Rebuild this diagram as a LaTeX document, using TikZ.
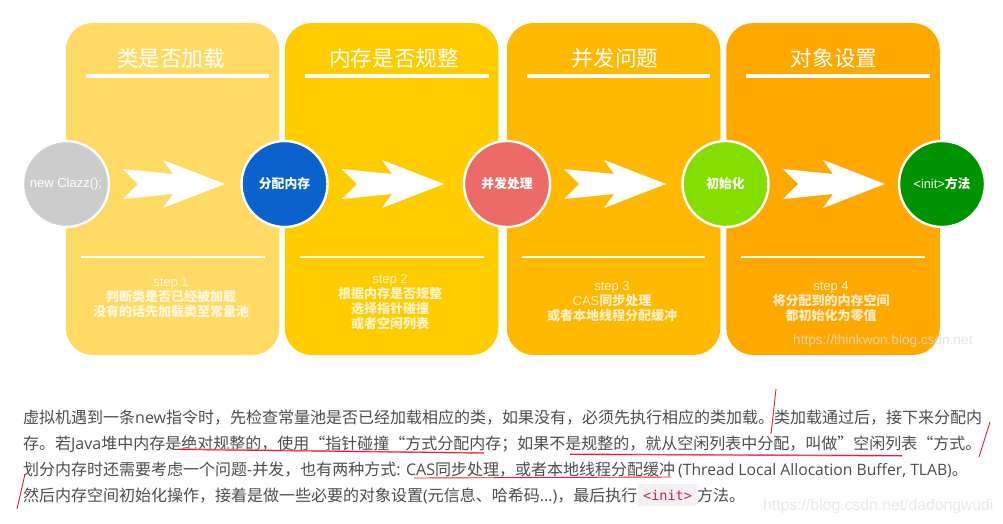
\documentclass[tikz,border=0pt]{standalone}
\usepackage{fontspec}
\setmainfont{Noto Sans CJK SC}
\newfontfamily\lat{Open Sans}
\newfontfamily\hel{Liberation Sans}
\newfontfamily\monof{DejaVu Sans Mono}
\definecolor{pa}{HTML}{FFDB66}
\definecolor{pb}{HTML}{FFCC00}
\definecolor{pc}{HTML}{FFB900}
\definecolor{pd}{HTML}{FFA800}
\definecolor{ca}{HTML}{CCCCCC}
\definecolor{cb}{HTML}{0A62CC}
\definecolor{cc}{HTML}{EC6B66}
\definecolor{cd}{HTML}{84DF00}
\definecolor{ce}{HTML}{009300}
\definecolor{bodyc}{HTML}{4D4D4D}
\definecolor{codec}{HTML}{C7254E}
\definecolor{codebg}{HTML}{F6F0F4}
\definecolor{redl}{HTML}{EE1C2E}
\definecolor{pinkl}{HTML}{F78F98}
\definecolor{wma}{HTML}{DDDDDD}
\definecolor{wmb}{HTML}{EAEAEA}
\tikzset{
  x=1pt,y=-1pt,
  panel/.style={fill=#1,rounded corners=27pt,minimum width=213.5pt,minimum height=332pt,inner sep=0pt},
  stepcircle/.style={circle,fill=#1,draw=white,line width=2.4pt,minimum size=86pt,inner sep=0pt,text=white,font=\bfseries\fontsize{12.8}{15}\selectfont},
  ptitle/.style={text=white,font=\fontsize{21.6}{24}\selectfont,inner sep=0pt},
  pbody/.style={text=white,opacity=.8,font=\bfseries\fontsize{13}{15}\selectfont,align=center,inner sep=0pt},
  bodyline/.style={anchor=base west,inner sep=0pt,text=bodyc,font=\fontsize{16}{20}\selectfont},
  thickrule/.style={white,line width=3.4pt},
  thinrule/.style={white,line width=1.6pt},
  marka/.style={redl,line width=.9pt},
  markb/.style={pinkl,line width=1.5pt},
  chevron/.style={fill=white,draw=none},
  codebox/.style={fill=codebg,rounded corners=2pt,minimum width=59pt,minimum height=22pt,inner sep=0pt,text=codec,font=\monof\fontsize{13.5}{16}\selectfont},
  wmark/.style={inner sep=0pt,anchor=base west,font=\hel\fontsize{13.6}{16}\selectfont},
}
\begin{document}
\begin{tikzpicture}
\useasboundingbox (0,0) rectangle (1003,523);
\fill[white] (0,0) rectangle (1003,523);
% panels
\node[panel=pa] (p1) at (172.5,189) {};
\node[panel=pb] (p2) at (391.5,189) {};
\node[panel=pc] (p3) at (613.5,189) {};
\node[panel=pd] (p4) at (833,189) {};
% titles
\node[ptitle] (t1) at (171,58.5) {类是否加载};
\node[ptitle] (t2) at (394,58.5) {内存是否规整};
\node[ptitle] (t3) at (615,58.5) {并发问题};
\node[ptitle] (t4) at (834,58.5) {对象设置};
% rules
\draw[thickrule] (86,76) -- (269,76);
\draw[thickrule] (305,76) -- (489,76);
\draw[thickrule] (527,76) -- (710,76);
\draw[thickrule] (746,76) -- (930,76);
\draw[thinrule] (81,257) -- (265,257);
\draw[thinrule] (300,257) -- (484,257);
\draw[thinrule] (522,257) -- (705,257);
\draw[thinrule] (741,257) -- (925,257);
% arrows
\foreach \dx in {0,219,441,660}{
  \fill[chevron,xshift=\dx pt] (123,169) -- (173,174) -- (163,160) -- (225,184) -- (163,208) -- (173,194) -- (123,199) -- (138,184) -- cycle;
}
% circles
\node[stepcircle=ca] (c1) at (66,184) {\hel\mdseries\fontsize{13}{15}\selectfont new Clazz();};
\node[stepcircle=cb] (c2) at (284.5,184) {分配内存};
\node[stepcircle=cc] (c3) at (507,184) {并发处理};
\node[stepcircle=cd] (c4) at (725.5,184) {初始化};
\node[stepcircle=ce] (c5) at (942,184) {{\hel\mdseries <init>}方法};
% step text
\node[pbody,anchor=north] (s1) at (171,277) {{\hel\mdseries step 1}\\判断类是否已经被加载\\没有的话先加载类至常量池};
\node[pbody,anchor=north] (s2) at (390,274) {{\hel\mdseries step 2}\\根据内存是否规整\\选择指针碰撞\\或者空闲列表};
\node[pbody,anchor=north] (s3) at (612,281) {{\hel\mdseries step 3}\\{\hel\mdseries CAS}同步处理\\或者本地线程分配缓冲};
\node[pbody,anchor=north] (s4) at (831,281) {{\hel\mdseries step 4}\\将分配到的内存空间\\都初始化为零值};
\node[wmark,text=wma,opacity=.8] (w1) at (793,344) {https://thinkwon.blog.csdn.net};
% body
\node[bodyline] (l1) at (23,423) {虚拟机遇到一条{\lat new}指令时，先检查常量池是否已经加载相应的类，如果没有，必须先执行相应的类加载。类加载通过后，接下来分配内};
\node[bodyline] (l2) at (23,449) {存。若{\lat Java}堆中内存是绝对规整的，使用“指针碰撞“方式分配内存；如果不是规整的，就从空闲列表中分配，叫做”空闲列表“方式。};
\node[bodyline] (l3) at (23,475) {划分内存时还需要考虑一个问题{\lat -}并发，也有两种方式{\lat : CAS}同步处理，或者本地线程分配缓冲};
\node[bodyline] (l3b) at (678,475) {{\lat\fontsize{15.7}{20}\selectfont (Thread Local Allocation Buffer, TLAB)}。};
\node[bodyline] (l4) at (23,501) {然后内存空间初始化操作，接着是做一些必要的对象设置{\lat (}元信息、哈希码{\lat ...)}，最后执行};
\node[codebox] (code) at (667.5,495) {<init>};
\node[bodyline] (l5) at (697,501) {方法。};
\node[wmark,text=wmb,font=\hel\fontsize{15.75}{18}\selectfont] (w2) at (763,510.5) {https://blog.csdn.net/dadongwudi};
% hand marks
\draw[markb] (178,449) -- (484,453);
\draw[marka] (178,449.5) -- (484,453);
\draw[markb] (570,454) -- (902,456);
\draw[marka] (570,454.5) -- (902,455.5);
\draw[marka] (414,478) -- (671,477);
\draw[marka] (776,389) -- (771,434);
\draw[marka] (990,422) -- (979,457);
\draw[marka] (25,474) -- (17,509);
\end{tikzpicture}
\end{document}
